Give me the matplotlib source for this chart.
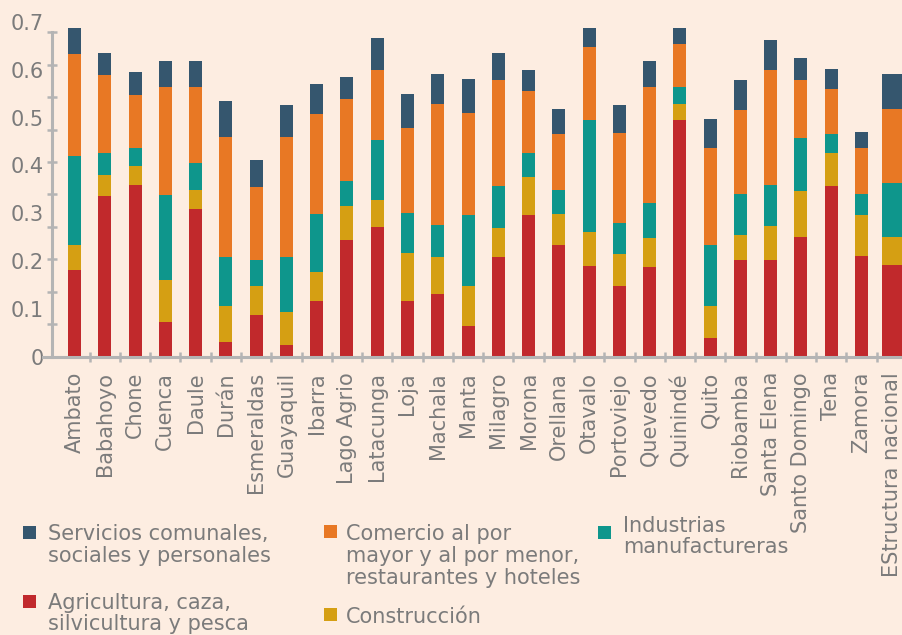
import matplotlib
matplotlib.use("Agg")
import matplotlib.pyplot as plt
import numpy as np
from matplotlib.patches import Rectangle

categories = ["Ambato", "Babahoyo", "Chone", "Cuenca", "Daule", "Durán", "Esmeraldas",
              "Guayaquil", "Ibarra", "Lago Agrio", "Latacunga", "Loja", "Machala", "Manta",
              "Milagro", "Morona", "Orellana", "Otavalo", "Portoviejo", "Quevedo", "Quinindé",
              "Quito", "Riobamba", "Santa Elena", "Santo Domingo", "Tena", "Zamora",
              "EStructura nacional"]

agricultura = [0.181, 0.336, 0.359, 0.073, 0.309, 0.031, 0.087, 0.024, 0.117, 0.244,
               0.271, 0.117, 0.131, 0.064, 0.209, 0.296, 0.234, 0.190, 0.148, 0.188,
               0.495, 0.039, 0.202, 0.202, 0.250, 0.357, 0.211, 0.192]
construccion = [0.052, 0.044, 0.040, 0.088, 0.040, 0.075, 0.061, 0.069, 0.061, 0.071,
                0.057, 0.100, 0.078, 0.084, 0.061, 0.080, 0.065, 0.071, 0.067, 0.061,
                0.033, 0.067, 0.052, 0.071, 0.096, 0.069, 0.086, 0.058]
industrias = [0.186, 0.046, 0.038, 0.178, 0.056, 0.103, 0.054, 0.115, 0.121, 0.052,
              0.125, 0.084, 0.067, 0.149, 0.088, 0.050, 0.050, 0.234, 0.065, 0.073,
              0.036, 0.128, 0.086, 0.086, 0.111, 0.040, 0.044, 0.113]
comercio = [0.214, 0.163, 0.111, 0.226, 0.159, 0.251, 0.153, 0.251, 0.209, 0.172,
            0.146, 0.178, 0.253, 0.212, 0.220, 0.130, 0.117, 0.153, 0.188, 0.243,
            0.090, 0.203, 0.176, 0.241, 0.121, 0.094, 0.096, 0.155]
servicios = [0.054, 0.046, 0.048, 0.054, 0.054, 0.075, 0.056, 0.067, 0.063, 0.046,
             0.067, 0.071, 0.063, 0.071, 0.057, 0.044, 0.052, 0.040, 0.059, 0.054,
             0.033, 0.061, 0.063, 0.063, 0.046, 0.042, 0.034, 0.073]

y_labels = ["0", "0.1", "0.2", "0.3", "0.4", "0.5", "0.6", "0.7"]

legend_labels = {
    "servicios": ["Servicios comunales,", "sociales y personales"],
    "agricultura": ["Agricultura, caza,", "silvicultura y pesca"],
    "comercio": ["Comercio al por", "mayor y al por menor,", "restaurantes y hoteles"],
    "construccion": ["Construcción"],
    "industrias": ["Industrias", "manufactureras"],
}

bg = "#fdede1"
c_red = "#c1292c"
c_gold = "#d59f13"
c_teal = "#0e968c"
c_orange = "#e87824"
c_navy = "#35566e"
txt = "#7b7b7b"
axc = "#b4b4b4"

W, H = 902, 635
fig = plt.figure(figsize=(W / 100, H / 100), dpi=100, facecolor=bg)
plt.rcParams["font.family"] = ["DejaVu Sans"]

ax_left, ax_bottom_px = 43, 356.7
ax = fig.add_axes([ax_left / W, 1 - ax_bottom_px / H, (W - ax_left) / W, ax_bottom_px / H])
ax.set_facecolor(bg)

x = np.arange(len(categories))
widths = [0.43] * (len(categories) - 1) + [0.66]
bottom = np.zeros(len(categories))
for vals, col in [(agricultura, c_red), (construccion, c_gold), (industrias, c_teal),
                  (comercio, c_orange), (servicios, c_navy)]:
    v = np.array(vals)
    ax.bar(x, v, width=widths, bottom=bottom, color=col, linewidth=0, zorder=2)
    bottom += v

ax.set_xlim(-1.0406, 27.337)
ax.set_ylim(0, 0.7462)

for s in ["top", "right"]:
    ax.spines[s].set_visible(False)
ax.spines["left"].set_position(("data", -0.727))
ax.spines["left"].set_bounds(0, 0.6787)
for s in ["left", "bottom"]:
    ax.spines[s].set_color(axc)
    ax.spines[s].set_linewidth(2.2)
    ax.spines[s].set_zorder(3)

ax.set_yticks(np.arange(len(y_labels)) * 0.1)
ax.set_yticklabels(y_labels)
ax.set_yticks(np.linspace(0, 0.6787, 11), minor=True)
ax.tick_params(axis="y", which="major", length=0, pad=6, labelsize=15, labelcolor=txt)
ax.tick_params(axis="y", which="minor", length=7.5, width=1.8, direction="inout", color=axc)

ax.set_xticks(x)
ax.set_xticklabels(categories, rotation=90, ha="center", va="top")
ax.set_xticks(x[:-1] + 0.5, minor=True)
ax.tick_params(axis="x", which="major", length=0, pad=11, labelsize=15, labelcolor=txt)
ax.tick_params(axis="x", which="minor", length=7.5, width=1.8, direction="inout", color=axc)


def add_entry(sq_x, sq_y, color, text_x, baselines, lines):
    fig.patches.append(Rectangle((sq_x / W, 1 - (sq_y + 13) / H), 13 / W, 13 / H,
                                 transform=fig.transFigure, facecolor=color,
                                 edgecolor="none", figure=fig))
    for b, line in zip(baselines, lines):
        fig.text(text_x / W, 1 - b / H, line, fontsize=15, color=txt,
                 ha="left", va="baseline")


add_entry(23, 526, c_navy, 48, [540, 562], legend_labels["servicios"])
add_entry(23, 595, c_red, 48, [609, 630], legend_labels["agricultura"])
add_entry(324, 525, c_orange, 346, [540, 562, 584], legend_labels["comercio"])
add_entry(324, 608, c_gold, 346, [623], legend_labels["construccion"])
add_entry(598, 526, c_teal, 623, [532, 553], legend_labels["industrias"])

fig.savefig("out.png", dpi=100, facecolor=bg)
